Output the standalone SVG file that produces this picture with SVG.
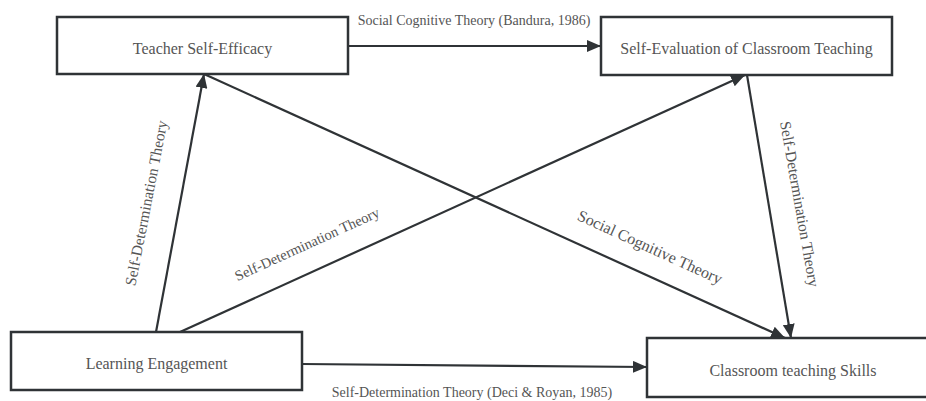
<svg xmlns="http://www.w3.org/2000/svg" width="926" height="401" viewBox="0 0 926 401">
  <style>
    .box { fill: #ffffff; stroke: #2f3336; stroke-width: 2.5; }
    .ntext { font-family: "Liberation Serif", "Times New Roman", serif; font-size: 16px; fill: #555555; text-anchor: middle; dominant-baseline: central; }
    .edge { fill: none; stroke: #2f3336; stroke-width: 2.2; marker-end: url(#arrow); }
    .etext { font-family: "Liberation Serif", "Times New Roman", serif; font-size: 14px; fill: #555555; text-anchor: middle; dominant-baseline: central; }
  </style>
  <defs>
    <marker id="arrow" markerUnits="userSpaceOnUse" markerWidth="14" markerHeight="12" refX="14" refY="6" orient="auto">
      <path d="M0,0 L14,6 L0,12 z" fill="#2f3336"/>
    </marker>
  </defs>
  <rect width="926" height="401" fill="#ffffff"/>

  <g id="connectors">
    <line class="edge" x1="348" y1="46" x2="601" y2="46"/>
    <line class="edge" x1="302" y1="364" x2="647" y2="367"/>
    <line class="edge" x1="156" y1="332" x2="204" y2="74"/>
    <line class="edge" x1="180" y1="332" x2="745" y2="75"/>
    <line class="edge" x1="204" y1="74" x2="785" y2="338"/>
    <line class="edge" x1="747" y1="75" x2="791" y2="338"/>
    <text class="etext" x="474" y="20">Social Cognitive Theory (Bandura, 1986)</text>
    <text class="etext" x="472" y="392">Self-Determination Theory (Deci &amp; Royan, 1985)</text>
    <text class="etext" style="font-size:15.5px" transform="translate(146,203) rotate(-79)">Self-Determination Theory</text>
    <text class="etext" style="font-size:14.5px" transform="translate(307,244) rotate(-24.5)">Self-Determination Theory</text>
    <text class="etext" style="font-size:16px" transform="translate(650,247) rotate(24.5)">Social Cognitive Theory</text>
    <text class="etext" style="font-size:15.5px" transform="translate(800,204) rotate(80)">Self-Determination Theory</text>
  </g>

  <g id="teacher-self-efficacy">
    <rect class="box" x="57" y="17" width="291" height="57"/>
    <text class="ntext" x="202.5" y="48">Teacher Self-Efficacy</text>
  </g>
  <g id="self-evaluation">
    <rect class="box" x="601" y="17" width="291" height="58"/>
    <text class="ntext" x="746.5" y="48">Self-Evaluation of Classroom Teaching</text>
  </g>
  <g id="learning-engagement">
    <rect class="box" x="11" y="332" width="291" height="58"/>
    <text class="ntext" x="156.5" y="363">Learning Engagement</text>
  </g>
  <g id="classroom-teaching-skills">
    <rect class="box" x="647" y="338" width="292" height="59"/>
    <text class="ntext" x="793" y="370">Classroom teaching Skills</text>
  </g>
</svg>
